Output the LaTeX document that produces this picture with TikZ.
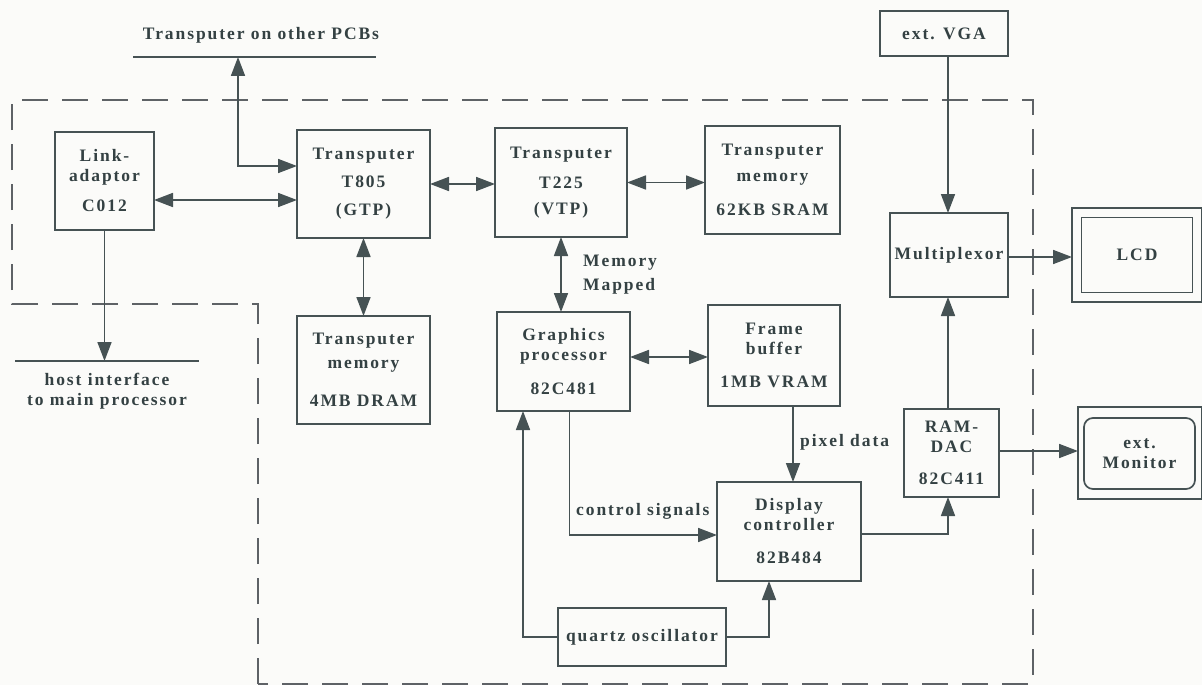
\documentclass[tikz,border=0pt]{standalone}
\usepackage{fontspec}
\setmainfont{Liberation Serif}[LetterSpace=11]
\usetikzlibrary{arrows.meta,calc}
\definecolor{ink}{HTML}{344143}
\definecolor{wire}{HTML}{465254}
\definecolor{bnd}{HTML}{5E6266}
\definecolor{paper}{HTML}{FBFBF9}
\tikzset{
  lbl/.style={font=\fontsize{17.5}{20}\selectfont\bfseries, text=ink, inner sep=0pt},
  box/.style={draw=wire, line width=1.7pt, lbl, align=center, inner sep=0pt, outer sep=0pt},
  tip/.style={},
  arr/.style={draw=wire, line width=1.7pt, -{Triangle[length=19pt,width=14pt]}},
  dbl/.style={draw=wire, line width=1.7pt, {Triangle[length=19pt,width=14pt]}-{Triangle[length=19pt,width=14pt]}},
  plain/.style={draw=wire, line width=1.7pt},
  bound/.style={draw=bnd, line width=1.5pt, dash pattern=on 26pt off 14pt},
}
\begin{document}
\begin{tikzpicture}[x=1pt,y=-1pt]
  % canvas
  \fill[paper] (0,0) rectangle (1202,685);
  \useasboundingbox (0,0) rectangle (1202,685);

  % board outline
  \draw[bound] (258,684) -- (258,304) -- (12,304) -- (12,100) -- (1033,100) -- (1033,684) -- cycle;

  % external bus to other boards
  \node[lbl] (pcbs) at (261,35) {Transputer on other PCBs};
  \coordinate (pl) at (133,57);
  \coordinate (pr) at (376,57);
  \draw[plain] (pl) -- (pr);
  \coordinate (pt) at (238,57);

  % host interface bus
  \coordinate (hl) at (15,361);
  \coordinate (hr) at (199,361);
  \draw[plain] (hl) -- (hr);
  \node[lbl, align=center] (host) at (107,391) {host interface\\to main processor};

  % processing blocks
  \node[box, minimum width=99pt, minimum height=98pt] (link) at (104.5,181) {Link-\\adaptor\\[10pt]C012};
  \node[box, minimum width=133pt, minimum height=108pt] (t805) at (363.5,184) {Transputer\\[8pt]T805\\[8pt](GTP)};
  \node[box, minimum width=132pt, minimum height=109pt] (t225) at (561,182.5) {Transputer\\[10pt]T225\\[6pt](VTP)};
  \node[box, minimum width=135pt, minimum height=108pt] (sram) at (772.5,180) {Transputer\\[6pt]memory\\[14pt]62KB SRAM};
  \node[box, minimum width=133pt, minimum height=108pt] (dram) at (363.5,370) {Transputer\\[4pt]memory\\[18pt]4MB DRAM};
  \node[box, minimum width=133pt, minimum height=99pt] (gp) at (563.5,361.5) {Graphics\\processor\\[14pt]82C481};
  \node[box, minimum width=132pt, minimum height=101pt] (fb) at (774,355.5) {Frame\\buffer\\[13pt]1MB VRAM};
  \node[box, minimum width=144pt, minimum height=99pt] (dc) at (789,531.5) {Display\\controller\\[13pt]82B484};
  \node[box, minimum width=168pt, minimum height=58pt] (osc) at (642,637) {quartz oscillator};
  \node[box, minimum width=95pt, minimum height=88pt] (ramdac) at (951.5,453) {RAM-\\DAC\\[12pt]82C411};
  \node[box, minimum width=118pt, minimum height=84pt] (mux) at (949,255) {Multiplexor};
  \node[box, minimum width=128pt, minimum height=45pt] (vga) at (944,33.5) {ext. VGA};

  % displays
  \node[box, minimum width=130pt, minimum height=94pt] (lcd) at (1137,255) {};
  \node[box, minimum width=111pt, minimum height=75pt] (lcdin) at (lcd) {LCD};
  \node[box, minimum width=124pt, minimum height=92pt] (mon) at (1140,453) {};
  \node[box, rounded corners=9pt, minimum width=111pt, minimum height=71pt] (monin) at (1139.5,453.5) {ext.\\Monitor};

  % link connections
  \draw[dbl] (pt) |- ([yshift=18pt]t805.west);
  \coordinate (la) at ([yshift=-19pt]link.east);
  \draw[dbl] (la) -- (la -| t805.west);
  \draw[dbl] (t805.east) -- (t805.east -| t225.west);
  \draw[dbl] (t225.east) -- (t225.east -| sram.west);
  \draw[dbl] (t805.south) -- (t805.south |- dram.north);
  \draw[arr] (link.south) -- (link.south |- hl);

  % graphics path
  \draw[dbl] (t225.south) -- (t225.south |- gp.north);
  \node[lbl, align=left, anchor=north west] (mm) at (583,255) {Memory\\[4pt]Mapped};
  \draw[dbl] ([yshift=4.5pt]gp.east) -- ([yshift=4.5pt]gp.east -| fb.west);
  \coordinate (fbo) at ([xshift=19pt]fb.south);
  \draw[arr] (fbo) -- (fbo |- dc.north);
  \node[lbl, anchor=west] (pd) at (800,442) {pixel data};
  \draw[arr] ([xshift=6pt]gp.south) |- ([yshift=-3.5pt]dc.west);
  \node[lbl, anchor=west] (cs) at (576,511) {control signals};
  \draw[arr] (osc.west) -| ([xshift=-40.5pt]gp.south);
  \draw[arr] (osc.east) -| ([xshift=-20pt]dc.south);

  % video output path
  \draw[arr] ([yshift=-2.5pt]dc.east) -| ([xshift=-3.5pt]ramdac.south);
  \draw[arr] ([xshift=-3.5pt]ramdac.north) -- ([xshift=-1pt]mux.south);
  \draw[arr] ([xshift=4pt]vga.south) -- ([xshift=-1pt]mux.north);
  \draw[arr] ([yshift=-2pt]mux.east) -- ([yshift=-2pt]mux.east -| lcd.west);
  \draw[arr] ([yshift=2pt]ramdac.east) -- ([yshift=2pt]ramdac.east -| mon.west);
\end{tikzpicture}
\end{document}
